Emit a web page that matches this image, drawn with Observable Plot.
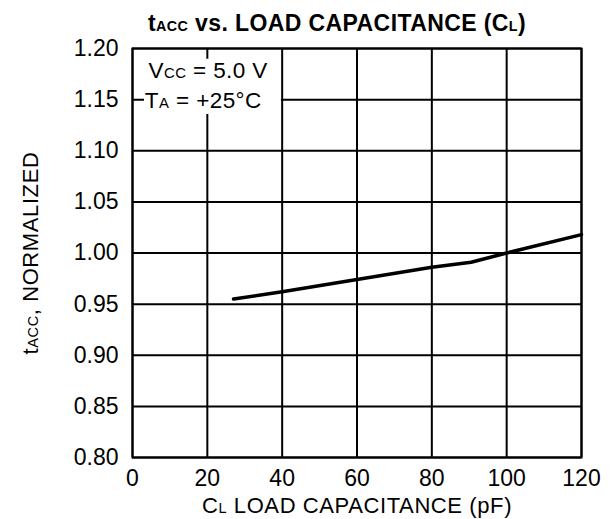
<!DOCTYPE html>
<html>
<head>
<meta charset="utf-8">
<script src="https://cdn.jsdelivr.net/npm/d3@7"></script>
<script src="https://cdn.jsdelivr.net/npm/@observablehq/plot@0.6"></script>
<style>
  html, body { margin: 0; padding: 0; background: #fff; }
  svg { display: block; }
</style>
</head>
<body>
<div id="chart"></div>
<script>
// Data
const capacitance = [27, 40, 60, 80, 90.5, 100, 120];
const tAccNormalized = [0.955, 0.962, 0.974, 0.986, 0.991, 1.000, 1.018];

// Axis ticks
const xTicks = [0, 20, 40, 60, 80, 100, 120];
const yTicks = [0.80, 0.85, 0.90, 0.95, 1.00, 1.05, 1.10, 1.15, 1.20];

// Texts ("|" toggles small capitals)
const titleText = "t|ACC| vs. LOAD CAPACITANCE (C|L|)";
const xLabel = "C|L| LOAD CAPACITANCE (pF)";
const yLabel = "t|ACC|, NORMALIZED";
const noteLines = ["V|CC| = 5.0 V", "T|A| = +25°C"];
const noteX = [4.3, 3.3];
const noteY = [1.178, 1.1486];
const noteBox = [{x1: 3.2, x2: 39.8, y1: 1.1355, y2: 1.1895}];

const points = capacitance.map((c, i) => ({c, t: tAccNormalized[i]}));
const notes = noteLines.map((s, i) => ({s, x: noteX[i], y: noteY[i]}));

const plot = Plot.plot({
  width: 614,
  height: 519,
  marginTop: 48,
  marginLeft: 132,
  marginRight: 33,
  marginBottom: 62,
  style: {fontFamily: "'Liberation Sans', Arial, sans-serif", fontSize: "23px", color: "#000", background: "#fff"},
  x: {domain: [0, 120]},
  y: {domain: [0.8, 1.2]},
  marks: [
    Plot.gridX(xTicks, {stroke: "#000", strokeOpacity: 1, strokeWidth: 2}),
    Plot.gridY(yTicks, {stroke: "#000", strokeOpacity: 1, strokeWidth: 2}),
    Plot.rect(noteBox, {x1: "x1", x2: "x2", y1: "y1", y2: "y2", fill: "#fff"}),
    Plot.frame({stroke: "#000", strokeWidth: 2}),
    Plot.axisX({ticks: xTicks, tickSize: 0, tickPadding: 12, label: null, fontSize: 23}),
    Plot.axisY({ticks: yTicks, tickSize: 0, tickPadding: 14, tickFormat: ".2f", label: null, fontSize: 23}),
    Plot.line(points, {x: "c", y: "t", stroke: "#000", strokeWidth: 3.5}),
    Plot.text(notes, {x: "x", y: "y", text: "s", textAnchor: "start", lineAnchor: "middle", fontSize: 22.5, fill: "#000"}),
    Plot.text([titleText], {frameAnchor: "top", textAnchor: "middle", lineAnchor: "middle", dx: -20, dy: -24.5, fontSize: 23, fontWeight: "bold", fill: "#000"}),
    Plot.text([xLabel], {frameAnchor: "bottom", textAnchor: "middle", lineAnchor: "middle", dy: 48, fontSize: 22, fill: "#000"}),
    Plot.text([yLabel], {frameAnchor: "left", textAnchor: "middle", lineAnchor: "middle", rotate: -90, dx: -102, fontSize: 22, fill: "#000"})
  ]
});

document.getElementById("chart").appendChild(plot);

// Render "|...|" segments as small capitals; widen texts slightly to match the reference
d3.select(plot).selectAll("text").each(function() {
  const el = this;
  const txt = el.textContent;
  if (!txt.includes("|")) return;
  const fs = parseFloat(el.getAttribute("font-size") || getComputedStyle(el).fontSize) || 21;
  const parts = txt.split("|");
  el.textContent = "";
  parts.forEach((p, i) => {
    const ts = d3.select(el).append("tspan").text(p);
    if (i % 2 === 1) ts.attr("font-size", (fs * (txt === titleText ? 0.62 : 0.66)).toFixed(1));
  });
  let ls = "0.4px";
  if (txt === xLabel) ls = "0.6px";
  if (txt === yLabel) ls = "0.6px";
  d3.select(el).attr("letter-spacing", ls);
});
</script>
</body>
</html>
